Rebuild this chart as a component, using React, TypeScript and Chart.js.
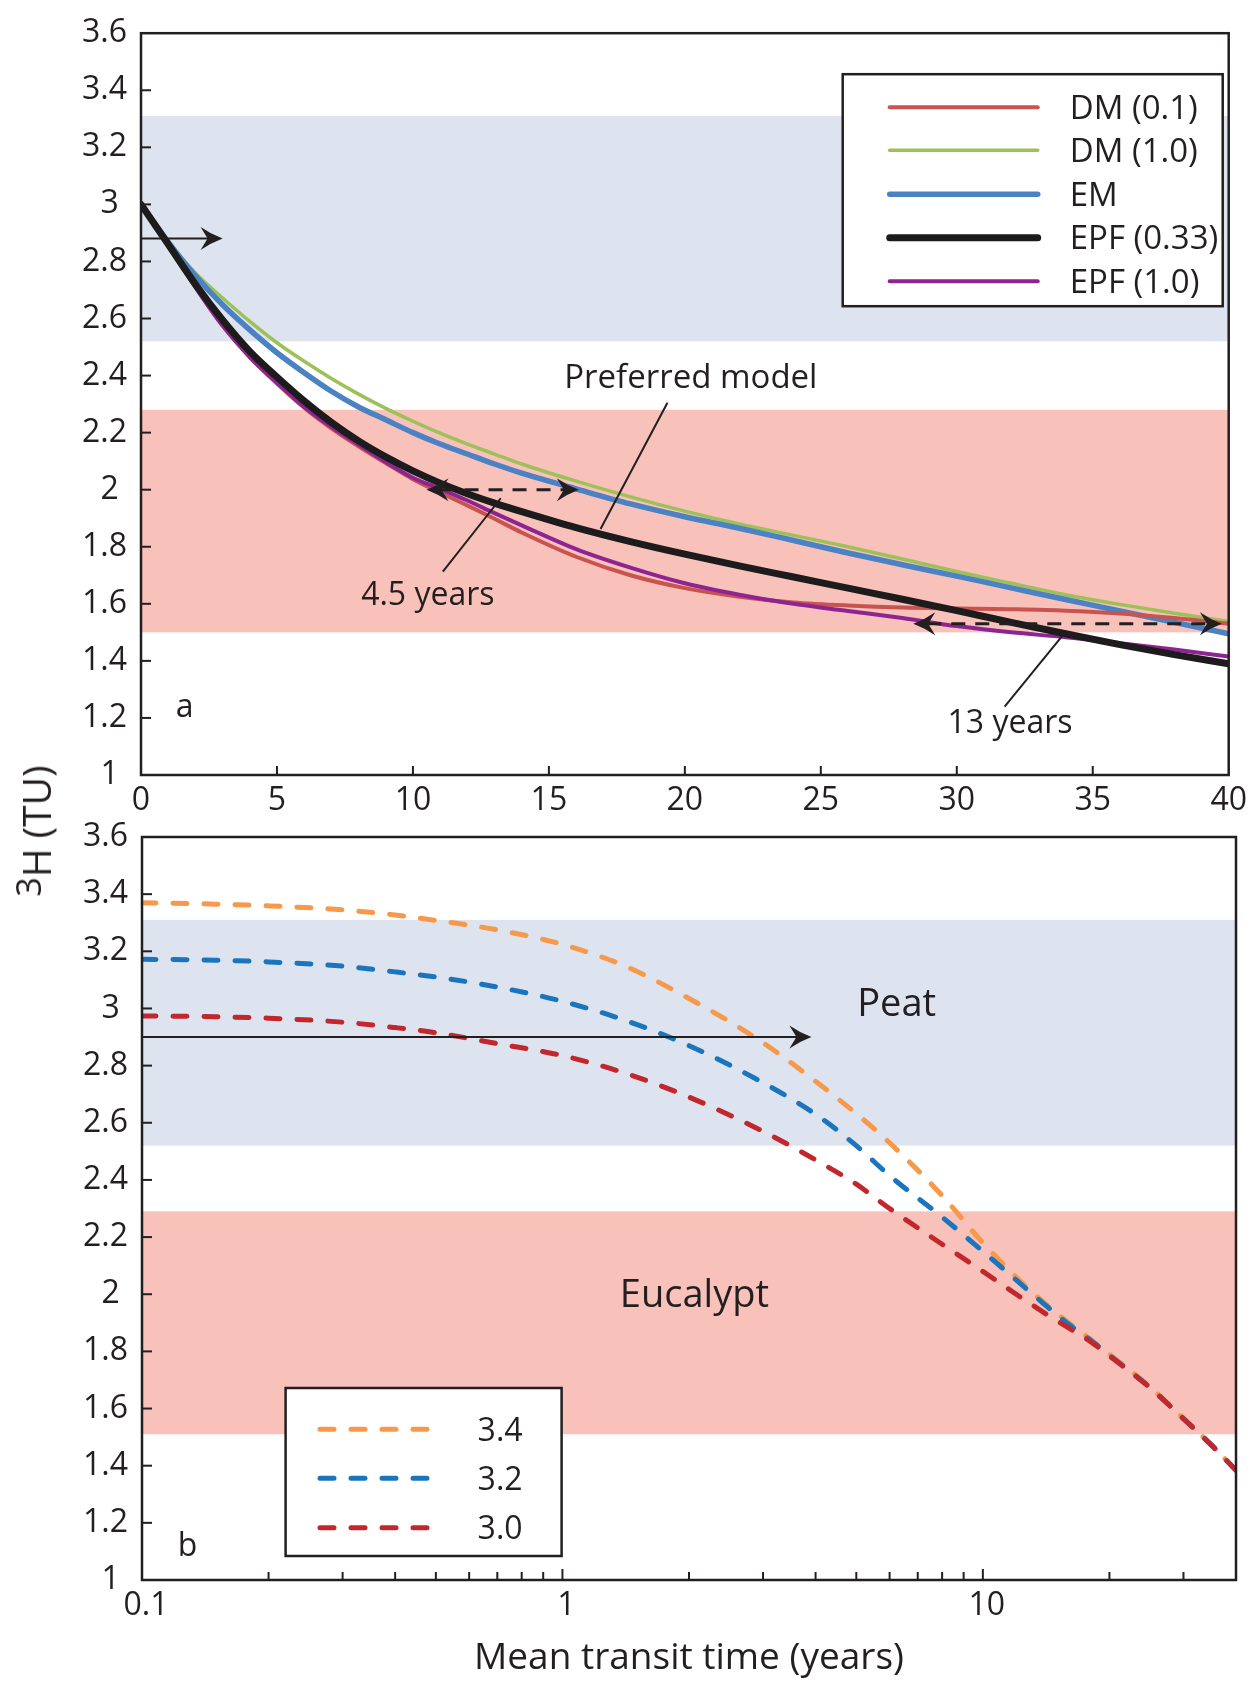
import React, { useEffect, useRef } from 'react';
import { Chart, registerables } from 'chart.js';

Chart.register(...registerables);

const FONT = '"Open Sans", "Noto Sans", "DejaVu Sans", sans-serif';
const INK = '#231f20';

// ---------------- Panel a : mean transit time (years), linear ----------------
const transitA = [0, 1, 2, 3, 4, 5, 6, 7, 8, 9, 10, 11, 12, 13, 14, 16, 18, 20, 22, 24, 26, 28, 30, 32, 34, 36, 38, 40];
const dm01 = [3.0, 2.858, 2.71, 2.575, 2.465, 2.372, 2.287, 2.215, 2.152, 2.093, 2.037, 1.99, 1.945, 1.898, 1.85, 1.765, 1.7, 1.655, 1.625, 1.605, 1.594, 1.587, 1.584, 1.581, 1.576, 1.566, 1.55, 1.53];
const dm10 = [3.0, 2.87, 2.76, 2.672, 2.59, 2.515, 2.45, 2.39, 2.335, 2.285, 2.24, 2.198, 2.16, 2.125, 2.09, 2.03, 1.975, 1.925, 1.88, 1.84, 1.8, 1.757, 1.713, 1.672, 1.632, 1.598, 1.567, 1.538];
const em = [3.0, 2.868, 2.75, 2.648, 2.56, 2.48, 2.41, 2.345, 2.29, 2.245, 2.2, 2.16, 2.125, 2.09, 2.058, 2.003, 1.95, 1.905, 1.865, 1.822, 1.778, 1.737, 1.697, 1.656, 1.615, 1.575, 1.535, 1.495];
const epf033 = [3.0, 2.86, 2.72, 2.595, 2.485, 2.395, 2.311, 2.236, 2.171, 2.115, 2.066, 2.023, 1.986, 1.953, 1.923, 1.867, 1.818, 1.774, 1.733, 1.694, 1.655, 1.616, 1.576, 1.535, 1.495, 1.457, 1.422, 1.39];
const epf10 = [3.0, 2.858, 2.71, 2.575, 2.465, 2.375, 2.29, 2.22, 2.158, 2.097, 2.042, 2.003, 1.962, 1.918, 1.875, 1.792, 1.727, 1.672, 1.632, 1.6, 1.575, 1.55, 1.522, 1.5, 1.483, 1.462, 1.44, 1.415];
const seriesLabelsA = ['DM (0.1)', 'DM (1.0)', 'EM', 'EPF (0.33)', 'EPF (1.0)'];

// ---------------- Panel b : mean transit time (years), logarithmic ----------------
const transitB = [0.1, 0.15, 0.2, 0.3, 0.4, 0.5, 0.7, 1, 1.4, 2, 3, 4, 5, 6, 8, 10, 12, 14, 16, 18, 20, 25, 30, 35, 40];
const input34 = [3.37, 3.365, 3.359, 3.345, 3.327, 3.308, 3.275, 3.224, 3.15, 3.035, 2.88, 2.745, 2.632, 2.53, 2.345, 2.18, 2.06, 1.97, 1.9, 1.843, 1.79, 1.675, 1.565, 1.472, 1.384];
const input32 = [3.172, 3.169, 3.163, 3.148, 3.128, 3.11, 3.075, 3.025, 2.96, 2.87, 2.74, 2.63, 2.52, 2.415, 2.27, 2.15, 2.05, 1.965, 1.895, 1.84, 1.787, 1.673, 1.565, 1.472, 1.384];
const input30 = [2.974, 2.971, 2.966, 2.952, 2.933, 2.915, 2.877, 2.835, 2.775, 2.69, 2.57, 2.47, 2.385, 2.3, 2.175, 2.08, 2.0, 1.935, 1.882, 1.835, 1.784, 1.672, 1.564, 1.471, 1.384];
const seriesLabelsB = ['3.4', '3.2', '3.0'];
const logTicks = [0.1, 0.2, 0.3, 0.4, 0.5, 0.6, 0.7, 0.8, 0.9, 1, 2, 3, 4, 5, 6, 7, 8, 9, 10, 20, 30, 40];
const logMajor = [0.1, 1, 10];

// ---------------- Measured 3H ranges (TU) ----------------
const peatBandA = [2.52, 3.31];
const eucalyptBandA = [1.5, 2.28];
const peatBandB = [2.52, 3.31];
const eucalyptBandB = [1.51, 2.29];

const BLUE_BAND = '#dde4ef';
const RED_BAND = '#f8c1ba';

type Ctx = CanvasRenderingContext2D;

function seg(ctx: Ctx, x1: number, y1: number, x2: number, y2: number) {
  ctx.beginPath();
  ctx.moveTo(x1, y1);
  ctx.lineTo(x2, y2);
  ctx.stroke();
}

function head(ctx: Ctx, tx: number, ty: number, dir: number) {
  const L = 22, W = 23;
  ctx.beginPath();
  ctx.moveTo(tx, ty);
  ctx.quadraticCurveTo(tx - dir * L * 0.55, ty - W * 0.2, tx - dir * L, ty - W / 2);
  ctx.lineTo(tx - dir * L * 0.68, ty);
  ctx.lineTo(tx - dir * L, ty + W / 2);
  ctx.quadraticCurveTo(tx - dir * L * 0.55, ty + W * 0.2, tx, ty);
  ctx.closePath();
  ctx.fill();
}

function text(ctx: Ctx, s: string, x: number, y: number, size: number, align: CanvasTextAlign) {
  ctx.font = `${size}px ${FONT}`;
  ctx.fillStyle = INK;
  ctx.textAlign = align;
  ctx.textBaseline = 'alphabetic';
  ctx.fillText(s, x, y);
}

function drawBands(chart: any, bands: number[][]) {
  const { ctx, chartArea: ca, scales } = chart;
  const y = scales.y;
  ctx.save();
  bands.forEach((b, i) => {
    const top = y.getPixelForValue(b[1]);
    const bot = y.getPixelForValue(b[0]);
    ctx.fillStyle = i === 0 ? BLUE_BAND : RED_BAND;
    ctx.fillRect(ca.left, top, ca.right - ca.left, bot - top);
  });
  ctx.restore();
}

function drawFrame(chart: any, xTicks: { v: number; len: number }[]) {
  const { ctx, chartArea: ca, scales } = chart;
  const x = scales.x, y = scales.y;
  ctx.save();
  ctx.strokeStyle = INK;
  ctx.lineWidth = 2.5;
  ctx.strokeRect(ca.left, ca.top, ca.right - ca.left, ca.bottom - ca.top);
  ctx.lineWidth = 2;
  y.ticks.forEach((t: any) => {
    if (t.value > y.min + 1e-6 && t.value < y.max - 1e-6) {
      const py = y.getPixelForValue(t.value);
      seg(ctx, ca.left, py, ca.left + 10, py);
    }
  });
  xTicks.forEach((t) => {
    const px = x.getPixelForValue(t.v);
    seg(ctx, px, ca.bottom, px, ca.bottom - t.len);
  });
  ctx.restore();
}

function drawLegend(chart: any, bx: number, by: number, w: number, h: number, rows: number[], lx1: number, lx2: number, tx: number, size: number) {
  const { ctx } = chart;
  ctx.save();
  ctx.fillStyle = '#ffffff';
  ctx.fillRect(bx, by, w, h);
  ctx.strokeStyle = INK;
  ctx.lineWidth = 2.5;
  ctx.strokeRect(bx, by, w, h);
  chart.data.datasets.forEach((ds: any, i: number) => {
    const ry = by + rows[i];
    ctx.strokeStyle = ds.borderColor;
    ctx.lineWidth = ds.borderWidth;
    ctx.lineCap = 'round';
    ctx.setLineDash(ds.borderDash || []);
    seg(ctx, bx + lx1, ry, bx + lx2, ry);
    ctx.setLineDash([]);
    text(ctx, ds.label, bx + tx, ry + 11.5, size, 'left');
  });
  ctx.restore();
}

const topPlugin = {
  id: 'panelA',
  beforeDatasetsDraw(chart: any) {
    drawBands(chart, [peatBandA, eucalyptBandA]);
  },
  afterDatasetsDraw(chart: any) {
    const { ctx, chartArea: ca, scales } = chart;
    const x = scales.x, y = scales.y;
    const xt = x.ticks.filter((t: any) => t.value > x.min && t.value < x.max).map((t: any) => ({ v: t.value, len: 9 }));
    drawFrame(chart, xt);
    ctx.save();
    ctx.strokeStyle = INK;
    ctx.fillStyle = INK;
    ctx.lineWidth = 2;
    // solid arrow from axis
    const ay = y.getPixelForValue(2.88);
    const atip = x.getPixelForValue(3.0);
    seg(ctx, ca.left, ay, atip - 14, ay);
    head(ctx, atip, ay, 1);
    // dashed double arrows
    const dbl = (xa: number, xb: number, v: number) => {
      const py = y.getPixelForValue(v);
      const pa = x.getPixelForValue(xa), pb = x.getPixelForValue(xb);
      ctx.lineWidth = 3;
      ctx.setLineDash([14, 10]);
      seg(ctx, pa + 14, py, pb - 14, py);
      ctx.setLineDash([]);
      head(ctx, pa, py, -1);
      head(ctx, pb, py, 1);
    };
    dbl(10.5, 16.1, 2.0);
    dbl(28.4, 39.75, 1.53);
    // leader lines
    ctx.lineWidth = 2;
    const lead = (x1: number, v1: number, x2: number, v2: number) =>
      seg(ctx, x.getPixelForValue(x1), y.getPixelForValue(v1), x.getPixelForValue(x2), y.getPixelForValue(v2));
    lead(19.36, 2.305, 16.9, 1.862);
    lead(11.1, 1.713, 13.23, 1.97);
    lead(31.76, 1.24, 33.91, 1.491);
    text(ctx, 'Preferred model', x.getPixelForValue(20.22), y.getPixelForValue(2.358), 33, 'center');
    text(ctx, '4.5 years', x.getPixelForValue(10.55), y.getPixelForValue(1.597), 32, 'center');
    text(ctx, '13 years', x.getPixelForValue(31.96), y.getPixelForValue(1.147), 32, 'center');
    text(ctx, 'a', x.getPixelForValue(1.28), y.getPixelForValue(1.202), 32, 'left');
    ctx.restore();
    drawLegend(chart, ca.right - 386, ca.top + 41, 380, 232, [33, 76, 120, 163.5, 207], 47, 195, 227, 33);
  },
};

const botPlugin = {
  id: 'panelB',
  beforeDatasetsDraw(chart: any) {
    drawBands(chart, [peatBandB, eucalyptBandB]);
  },
  afterDatasetsDraw(chart: any) {
    const { ctx, chartArea: ca, scales } = chart;
    const x = scales.x, y = scales.y;
    const xt = logTicks
      .filter((v) => v > x.min + 1e-9 && v < x.max - 1e-9)
      .map((v) => ({ v, len: logMajor.includes(v) ? 11 : 8 }));
    drawFrame(chart, xt);
    ctx.save();
    ctx.strokeStyle = INK;
    ctx.fillStyle = INK;
    ctx.lineWidth = 2;
    const ay = y.getPixelForValue(2.9);
    const atip = x.getPixelForValue(3.91);
    seg(ctx, ca.left, ay, atip - 14, ay);
    head(ctx, atip, ay, 1);
    text(ctx, 'Peat', x.getPixelForValue(6.235), y.getPixelForValue(2.973), 38, 'center');
    text(ctx, 'Eucalypt', x.getPixelForValue(2.06), y.getPixelForValue(1.955), 38, 'center');
    text(ctx, 'b', x.getPixelForValue(0.1216), y.getPixelForValue(1.085), 32, 'left');
    text(ctx, 'Mean transit time (years)', (ca.left + ca.right) / 2, ca.bottom + 89, 37, 'center');
    ctx.restore();
    drawLegend(chart, ca.left + 143.6, ca.top + 551, 276, 168, [41.3, 90.3, 139.7], 34.4, 150.4, 192, 32);
  },
};

const yTickLabel = (v: any) => {
  const r = Math.round(Number(v) * 10) / 10;
  return Number.isInteger(r) ? `${r} ` : r.toFixed(1);
};

const tickFont = { family: FONT, size: 32 };

function topConfig(): any {
  const mk = (label: string, ys: number[], color: string, width: number, order: number) => ({
    label,
    data: transitA.map((t, i) => ({ x: t, y: ys[i] })),
    borderColor: color,
    borderWidth: width,
    pointRadius: 0,
    cubicInterpolationMode: 'monotone',
    borderCapStyle: 'round',
    fill: false,
    order,
  });
  return {
    type: 'line',
    data: {
      datasets: [
        mk(seriesLabelsA[0], dm01, '#c9534f', 4, 3),
        mk(seriesLabelsA[1], dm10, '#9cc159', 3.5, 5),
        mk(seriesLabelsA[2], em, '#4b82c3', 5.5, 4),
        mk(seriesLabelsA[3], epf033, '#1d1b1c', 7, 1),
        mk(seriesLabelsA[4], epf10, '#8e2491', 4, 2),
      ],
    },
    options: {
      animation: false,
      responsive: false,
      maintainAspectRatio: false,
      layout: { padding: { left: 0, top: 33, right: 22, bottom: 0 } },
      plugins: { legend: { display: false }, tooltip: { enabled: false } },
      scales: {
        x: {
          type: 'linear',
          min: 0,
          max: 40,
          ticks: { stepSize: 5, padding: 7, font: tickFont, color: INK, maxRotation: 0, autoSkip: false },
          grid: { display: false, drawTicks: false },
          border: { display: false },
          afterFit: (s: any) => { s.height = 55; },
        },
        y: {
          type: 'linear',
          min: 1,
          max: 3.6,
          ticks: { stepSize: 0.2, padding: 14, font: tickFont, color: INK, callback: yTickLabel },
          grid: { display: false, drawTicks: false },
          border: { display: false },
          afterFit: (s: any) => { s.width = 141; },
        },
      },
    },
    plugins: [topPlugin],
  };
}

function botConfig(): any {
  const mk = (label: string, ys: number[], color: string, order: number) => ({
    label,
    data: transitB.map((t, i) => ({ x: t, y: ys[i] })),
    borderColor: color,
    borderWidth: 5,
    borderDash: [14, 17],
    borderCapStyle: 'round',
    pointRadius: 0,
    cubicInterpolationMode: 'monotone',
    fill: false,
    order,
  });
  return {
    type: 'line',
    data: {
      datasets: [
        mk(seriesLabelsB[0], input34, '#f7994a', 3),
        mk(seriesLabelsB[1], input32, '#1b75bc', 2),
        mk(seriesLabelsB[2], input30, '#c1272d', 1),
      ],
    },
    options: {
      animation: false,
      responsive: false,
      maintainAspectRatio: false,
      layout: { padding: { left: 0, top: 47, right: 18, bottom: 0 } },
      plugins: { legend: { display: false }, tooltip: { enabled: false } },
      scales: {
        x: {
          type: 'logarithmic',
          min: 0.1,
          max: 40,
          afterBuildTicks: (s: any) => { s.ticks = logTicks.map((v) => ({ value: v })); },
          ticks: {
            padding: 7,
            labelOffset: 4,
            font: tickFont,
            color: INK,
            maxRotation: 0,
            autoSkip: false,
            callback: (v: any) => (logMajor.includes(Number(v)) ? String(v) : ''),
          },
          grid: { display: false, drawTicks: false },
          border: { display: false },
          afterFit: (s: any) => { s.height = 101; },
        },
        y: {
          type: 'linear',
          min: 1,
          max: 3.6,
          ticks: { stepSize: 0.2, padding: 14, font: tickFont, color: INK, callback: yTickLabel },
          grid: { display: false, drawTicks: false },
          border: { display: false },
          afterFit: (s: any) => { s.width = 142; },
        },
      },
    },
    plugins: [botPlugin],
  };
}

export default function App() {
  const topRef = useRef<HTMLCanvasElement>(null);
  const botRef = useRef<HTMLCanvasElement>(null);

  useEffect(() => {
    const a = new Chart(topRef.current as HTMLCanvasElement, topConfig());
    const b = new Chart(botRef.current as HTMLCanvasElement, botConfig());
    return () => {
      a.destroy();
      b.destroy();
    };
  }, []);

  return (
    <div style={{ position: 'absolute', left: 0, top: 0, width: 1254, height: 1681, background: '#ffffff', overflow: 'hidden' }}>
      <canvas ref={topRef} width={1254} height={830} style={{ position: 'absolute', left: 0, top: 0 }} />
      <canvas ref={botRef} width={1254} height={891} style={{ position: 'absolute', left: 0, top: 790 }} />
      <div
        style={{
          position: 'absolute',
          left: 37,
          top: 831,
          transform: 'translate(-50%, -50%) rotate(-90deg)',
          fontFamily: FONT,
          fontSize: 39,
          lineHeight: '39px',
          color: INK,
          whiteSpace: 'nowrap',
        }}
      >
        <span style={{ fontSize: 34, position: 'relative', top: -10 }}>3</span>H (TU)
      </div>
    </div>
  );
}
